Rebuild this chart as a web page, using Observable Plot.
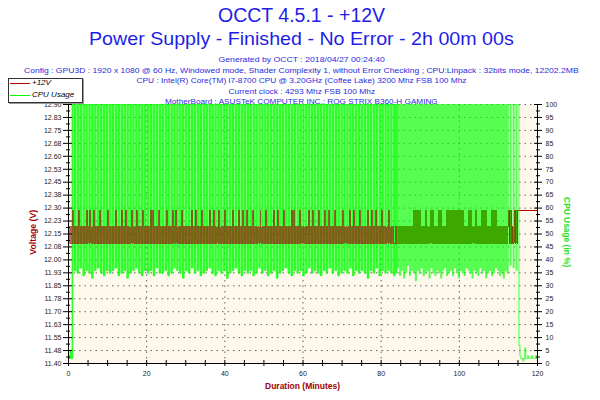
<!DOCTYPE html>
<html><head><meta charset="utf-8">
<script src="https://cdn.jsdelivr.net/npm/d3@7"></script>
<script src="https://cdn.jsdelivr.net/npm/@observablehq/plot@0.6"></script>
<style>
body{margin:0;background:#fff;}
#wrap{position:relative;width:600px;height:400px;overflow:hidden;font-family:"Liberation Sans",Arial,sans-serif;}
#chart{position:absolute;left:0;top:0;}
.lbl{position:absolute;white-space:nowrap;line-height:1;}
.blue{color:#1e1ee6;}
.small{font-size:8px;color:#2b2bdc;}
#legend{position:absolute;left:8px;top:78px;width:73px;height:23px;background:#fff;border:1px solid #333;box-shadow:1px 1px 0 #999;}
#legend span{position:absolute;font:italic 8px "Liberation Sans",Arial,sans-serif;color:#000;line-height:10px;}
#legend i{position:absolute;display:block;height:1px;width:20px;left:1px;}
</style></head><body>
<div id="wrap">
<div id="chart"></div>
<div class="lbl blue" data-cx="301.5" data-cy="16" data-w="167" style="font-size:19.5px">OCCT 4.5.1 - +12V</div>
<div class="lbl blue" data-cx="301.5" data-cy="38.5" data-w="425" style="font-size:19px">Power Supply - Finished - No Error - 2h 00m 00s</div>
<div class="lbl small" data-cx="301" data-cy="60" data-w="166">Generated by OCCT : 2018/04/27 00:24:40</div>
<div class="lbl small" data-cx="301.5" data-cy="70.5" data-w="555">Config : GPU3D : 1920 x 1080 @ 60 Hz, Windowed mode, Shader Complexity 1, without Error Checking ; CPU:Linpack : 32bits mode, 12202.2MB</div>
<div class="lbl small" data-cx="301.3" data-cy="81" data-w="330">CPU : Intel(R) Core(TM) i7-8700 CPU @ 3.20GHz (Coffee Lake) 3200 Mhz FSB 100 Mhz</div>
<div class="lbl small" data-cx="301.5" data-cy="91.5" data-w="147">Current clock : 4293 Mhz FSB 100 Mhz</div>
<div class="lbl small" data-cx="301" data-cy="102" data-w="273">MotherBoard : ASUSTeK COMPUTER INC.: ROG STRIX B360-H GAMING</div>
<div class="lbl" data-cx="33" data-cy="232.5" data-w="45" data-rot="-90" style="font-weight:bold;font-size:8.5px;color:#a00000">Voltage (V)</div>
<div class="lbl" data-cx="566.5" data-cy="232" data-w="70" data-rot="90" style="font-weight:bold;font-size:8.5px;color:#22e022">CPU Usage (in %)</div>
<div class="lbl" data-cx="302.5" data-cy="386" data-w="75" style="font-weight:bold;font-size:8.5px;color:#a00000">Duration (Minutes)</div>
<div id="legend">
  <i style="top:4px;background:#b40000"></i><span style="left:23px;top:-1px">+12V</span>
  <i style="top:16px;background:#00ff00"></i><span style="left:23px;top:11px">CPU Usage</span>
</div>
</div>
<script>
// ---- data -------------------------------------------------------------
const sampleMinutes = 0.25;            // one sample every 15 s
const cpuUsage = [
3,2,5,2,
100,100,36,100,100,35,100,100,37,100,100,34,100,100,36,100,100,35,100,100,33,100,100,36,100,100,37,100,100,35,
100,100,34,100,100,36,100,100,35,100,100,36,100,100,37,100,100,34,100,100,35,100,100,36,100,100,33,100,100,35,
100,100,36,100,100,37,100,100,35,100,100,34,100,100,36,100,100,35,100,100,36,100,100,34,100,100,37,100,100,35,
100,100,35,100,100,36,100,100,34,100,100,35,100,100,37,100,100,36,100,100,35,100,100,33,100,100,36,100,100,35,
100,100,37,100,100,35,100,100,36,100,100,34,100,100,35,100,100,36,100,100,37,100,100,35,100,100,34,100,100,36,
100,100,35,100,100,36,100,100,33,100,100,35,100,100,36,100,100,37,100,100,35,100,100,34,100,100,36,100,100,35,
100,100,36,100,100,34,100,100,35,100,100,37,100,100,35,100,100,36,100,100,34,100,100,35,100,100,36,100,100,33,
100,100,35,100,100,36,100,100,37,100,100,35,100,100,34,100,100,36,100,100,35,100,100,36,100,100,34,100,100,35,
100,100,37,100,100,35,100,100,36,100,100,35,100,100,34,100,100,36,100,100,35,100,100,37,100,100,35,100,100,36,
100,100,34,100,100,35,100,100,36,100,100,35,100,100,37,100,100,34,100,100,36,100,100,35,100,100,36,100,100,35,
100,100,33,100,100,36,100,100,35,100,100,37,100,100,34,100,100,36,100,100,35,100,100,36,100,100,35,100,100,34,
100,35,100,37,100,34,100,36,100,33,100,35,100,38,100,34,100,36,100,35,
100,32,100,36,100,35,100,37,100,34,100,35,100,36,100,33,100,37,100,35,
100,34,100,36,100,35,100,33,100,36,100,37,100,34,100,35,100,36,100,34,
100,37,100,35,100,33,100,36,100,35,100,34,100,37,100,36,100,35,100,33,
100,36,100,35,100,34,100,37,100,35,100,36,100,33,100,35,100,36,100,34,
100,35,100,37,100,36,100,34,100,35,100,33,100,36,100,35,
100,100,38,100,100,37,100,100,36,100,100,
7,3,2,2,1,2,6,2,2,3,2,2,2,3,2,2,2,3,2,2
];
const voltage12 = [
12.192,
12.096,12.192,12.096,12.288,12.096,12.192,12.096,12.192,12.096,12.288,12.096,12.192,
12.096,12.192,12.096,12.192,12.096,12.288,12.096,12.192,12.096,12.288,12.096,12.192,
12.096,12.288,12.096,12.192,12.096,12.192,12.096,12.288,12.096,12.192,12.096,12.192,
12.096,12.192,12.096,12.288,12.096,12.192,12.096,12.192,12.096,12.192,12.096,12.288,
12.096,12.192,12.096,12.192,12.096,12.288,12.096,12.192,12.096,12.288,12.096,12.192,
12.096,12.192,12.096,12.288,12.096,12.192,12.096,12.192,12.096,12.288,12.096,12.192,
12.096,12.192,12.096,12.288,12.096,12.192,12.096,12.192,12.096,12.192,12.096,12.288,
12.096,12.288,12.096,12.192,12.096,12.192,12.096,12.288,12.096,12.192,12.096,12.192,
12.096,12.192,12.096,12.288,12.096,12.192,12.096,12.192,12.096,12.288,12.096,12.192,
12.096,12.288,12.096,12.192,12.096,12.192,12.096,12.288,12.096,12.192,12.096,12.192,
12.096,12.192,12.096,12.192,12.096,12.288,12.096,12.192,12.096,12.288,12.096,12.192,
12.096,12.192,12.096,12.288,12.096,12.192,12.096,12.192,12.096,12.192,12.096,12.288,
12.096,12.192,12.096,12.288,12.096,12.192,12.096,12.192,12.096,12.288,12.096,12.192,
12.096,12.192,12.096,12.288,12.096,12.192,12.096,12.192,12.096,12.192,12.096,12.288,
12.096,12.192,12.096,12.192,12.096,12.288,12.096,12.192,12.096,12.288,12.096,12.192,
12.096,12.288,12.096,12.192,12.096,12.192,12.096,12.288,12.096,12.192,12.096,12.192,
12.096,12.192,12.096,12.288,12.096,12.192,12.096,12.192,12.096,12.288,12.096,12.192,
12.096,12.192,12.096,12.192,12.096,12.288,12.096,12.192,12.096,12.288,12.096,12.192,
12.096,12.192,12.096,12.288,12.096,12.192,12.096,12.192,12.096,12.192,12.096,12.288,
12.096,12.288,12.096,12.192,12.096,12.192,12.096,12.288,12.096,12.192,12.096,12.192,
12.096,12.192,12.096,12.192,12.096,12.288,12.096,12.192,12.096,12.288,12.096,12.192,
12.096,12.192,12.096,12.288,12.096,12.192,12.096,12.192,12.096,12.288,12.096,12.192,
12.096,12.288,12.096,12.192,12.096,12.192,12.096,12.288,12.096,12.192,12.096,12.192,
12.096,12.192,12.096,12.288,12.096,12.192,12.096,12.192,12.096,12.192,12.096,12.288,
12.096,12.192,12.096,12.288,12.096,12.192,12.096,12.192,12.096,12.288,12.096,12.192,
12.096,12.192,12.096,12.192,12.096,12.288,12.096,12.192,12.096,12.288,12.096,12.192,
12.096,12.288,12.096,12.192,12.096,12.192,12.096,12.288,12.096,12.192,12.096,12.192,
12.096,12.192,12.096,12.288,12.096,12.192,12.096,12.192,12.096,
12.096,12.192,12.096,12.192,12.096,12.192,12.096,12.192,12.096,12.192,12.096,12.192,12.096,12.192,12.096,12.192,12.096,12.192,
12.096,12.288,12.096,12.288,12.096,12.288,12.096,12.288,
12.096,12.192,12.096,12.192,
12.096,12.288,
12.096,12.192,12.096,12.192,
12.096,12.288,12.096,12.288,
12.096,12.192,12.096,12.192,
12.096,12.288,12.096,12.288,
12.096,12.192,12.096,12.192,
12.096,12.288,12.096,12.288,12.096,12.288,12.096,12.288,12.096,12.288,12.096,12.288,12.096,12.288,12.096,12.288,12.096,12.288,
12.096,12.192,12.096,12.192,
12.096,12.288,12.096,12.288,
12.096,12.192,12.096,12.192,
12.096,12.288,
12.096,12.192,12.096,12.192,
12.096,12.288,12.096,12.288,12.096,12.288,
12.096,12.192,12.096,12.192,
12.096,12.288,12.096,12.288,12.096,12.288,
12.096,12.192,12.096,12.192,12.096,12.192,12.096,12.192,12.096,12.192,12.096,12.192,
12.288,12.096,12.288,12.096,12.192,12.096,12.288,12.096,12.288,12.096,12.288,
12.288,12.288,12.288,12.288,12.288,12.288,12.288,12.288,12.288,12.288,
12.288,12.288,12.288,12.288,12.288,12.288,12.288,12.288,12.288,12.288
];
const voltDomain = [11.40, 12.90];
const voltTicks = [11.40, 11.475, 11.55, 11.625, 11.70, 11.775, 11.85, 11.925, 12.00, 12.075, 12.15,
                   12.225, 12.30, 12.375, 12.45, 12.525, 12.60, 12.675, 12.75, 12.825, 12.90];
const voltTickLabels = ["11.40","11.48","11.55","11.63","11.70","11.78","11.85","11.93","12.00","12.08","12.15",
                        "12.23","12.30","12.38","12.45","12.53","12.60","12.68","12.75","12.83","12.90"];
const cpuTicks = [0,5,10,15,20,25,30,35,40,45,50,55,60,65,70,75,80,85,90,95,100];
const minuteTicks = [0,5,10,15,20,25,30,35,40,45,50,55,60,65,70,75,80,85,90,95,100,105,110,115,120];
const minuteLabels = [0,20,40,60,80,100,120];
const minuteGrid = [20,40,60,80,100];
const sparseUntilMinute = 84;          // Linpack bursts before this, dense load after

// ---- chart ------------------------------------------------------------
const cpuToVolt = c => voltDomain[0] + c / 100 * (voltDomain[1] - voltDomain[0]);
const voltToCpu = v => Math.round((v - voltDomain[0]) / (voltDomain[1] - voltDomain[0]) * 100);
const rows = voltage12.map((v, i) => ({minute: i * sampleMinutes, volt: v, cpu: cpuUsage[i]}));
const rowsA = rows.filter(d => d.minute <= sparseUntilMinute);
const rowsB = rows.filter(d => d.minute >= sparseUntilMinute);
const voltMinor = d3.pairs(voltTicks).map(([a, b]) => (a + b) / 2);
const cpuMinor = d3.pairs(cpuTicks).map(([a, b]) => cpuToVolt((a + b) / 2));
const cpuY = d => cpuToVolt(d.cpu);

const chart = Plot.plot({
  width: 600, height: 400,
  marginLeft: 68, marginRight: 63, marginTop: 104, marginBottom: 37,
  x: {domain: [0, 120]},
  y: {domain: voltDomain},
  style: {fontFamily: "Liberation Sans, Arial, sans-serif", fontSize: "7px", color: "#222", background: "transparent"},
  marks: [
    Plot.frame({fill: "#fef8ec", stroke: "none"}),
    Plot.gridY(voltTicks, {stroke: "#555", strokeOpacity: 0.9, strokeDasharray: "1.5,4"}),
    Plot.gridX(minuteGrid, {stroke: "#555", strokeOpacity: 0.9, strokeDasharray: "1.5,4"}),
    Plot.line(rowsB, {x: "minute", y: "volt", curve: "step-after", stroke: "#b40000", strokeWidth: 1, shapeRendering: "crispEdges", clip: true}),
    Plot.line(rowsB, {x: "minute", y: cpuY, curve: "step-after", stroke: "#00ff00", strokeOpacity: 0.66, strokeWidth: 1.1, clip: true}),
    Plot.line(rowsA, {x: "minute", y: cpuY, curve: "step-after", stroke: "#00ff00", strokeOpacity: 0.82, strokeWidth: 1.6, clip: true}),
    Plot.line(rowsA, {x: "minute", y: "volt", curve: "step-after", stroke: "#a00000", strokeOpacity: 0.6, strokeWidth: 1, shapeRendering: "crispEdges", clip: true}),
    Plot.ruleX([0, 120], {stroke: "#000"}),
    Plot.ruleY([voltDomain[0]], {stroke: "#000"}),
    Plot.axisY(voltTicks, {anchor: "left", tickSize: 9, dx: 4, tickPadding: 2, stroke: "#000",
      tickFormat: d => voltTickLabels[voltTicks.indexOf(d)], label: null}),
    Plot.axisY(voltMinor, {anchor: "left", tickSize: 4, dx: 2, stroke: "#000", tickFormat: () => "", label: null}),
    Plot.axisY(cpuTicks.map(cpuToVolt), {anchor: "right", tickSize: 8, dx: -4, tickPadding: 4, stroke: "#000",
      tickFormat: d => String(voltToCpu(d)), label: null}),
    Plot.axisY(cpuMinor, {anchor: "right", tickSize: 4, dx: -2, stroke: "#000", tickFormat: () => "", label: null}),
    Plot.axisX(minuteTicks, {anchor: "bottom", tickSize: 6, dy: -3, stroke: "#000", tickFormat: () => "", label: null}),
    Plot.axisX(minuteLabels, {anchor: "bottom", tickSize: 0, tickPadding: 8, label: null})
  ]
});
document.getElementById("chart").appendChild(chart);

// ---- place the HTML texts ---------------------------------------------
document.querySelectorAll(".lbl").forEach(el => {
  const w = el.offsetWidth, h = el.offsetHeight;
  const cx = +el.dataset.cx, cy = +el.dataset.cy, tw = +el.dataset.w, rot = +(el.dataset.rot || 0);
  el.style.left = (cx - w / 2) + "px";
  el.style.top = (cy - h / 2) + "px";
  el.style.transformOrigin = "50% 50%";
  el.style.transform = (rot ? `rotate(${rot}deg) ` : "") + `scaleX(${tw / w})`;
});
</script>
</body></html>
